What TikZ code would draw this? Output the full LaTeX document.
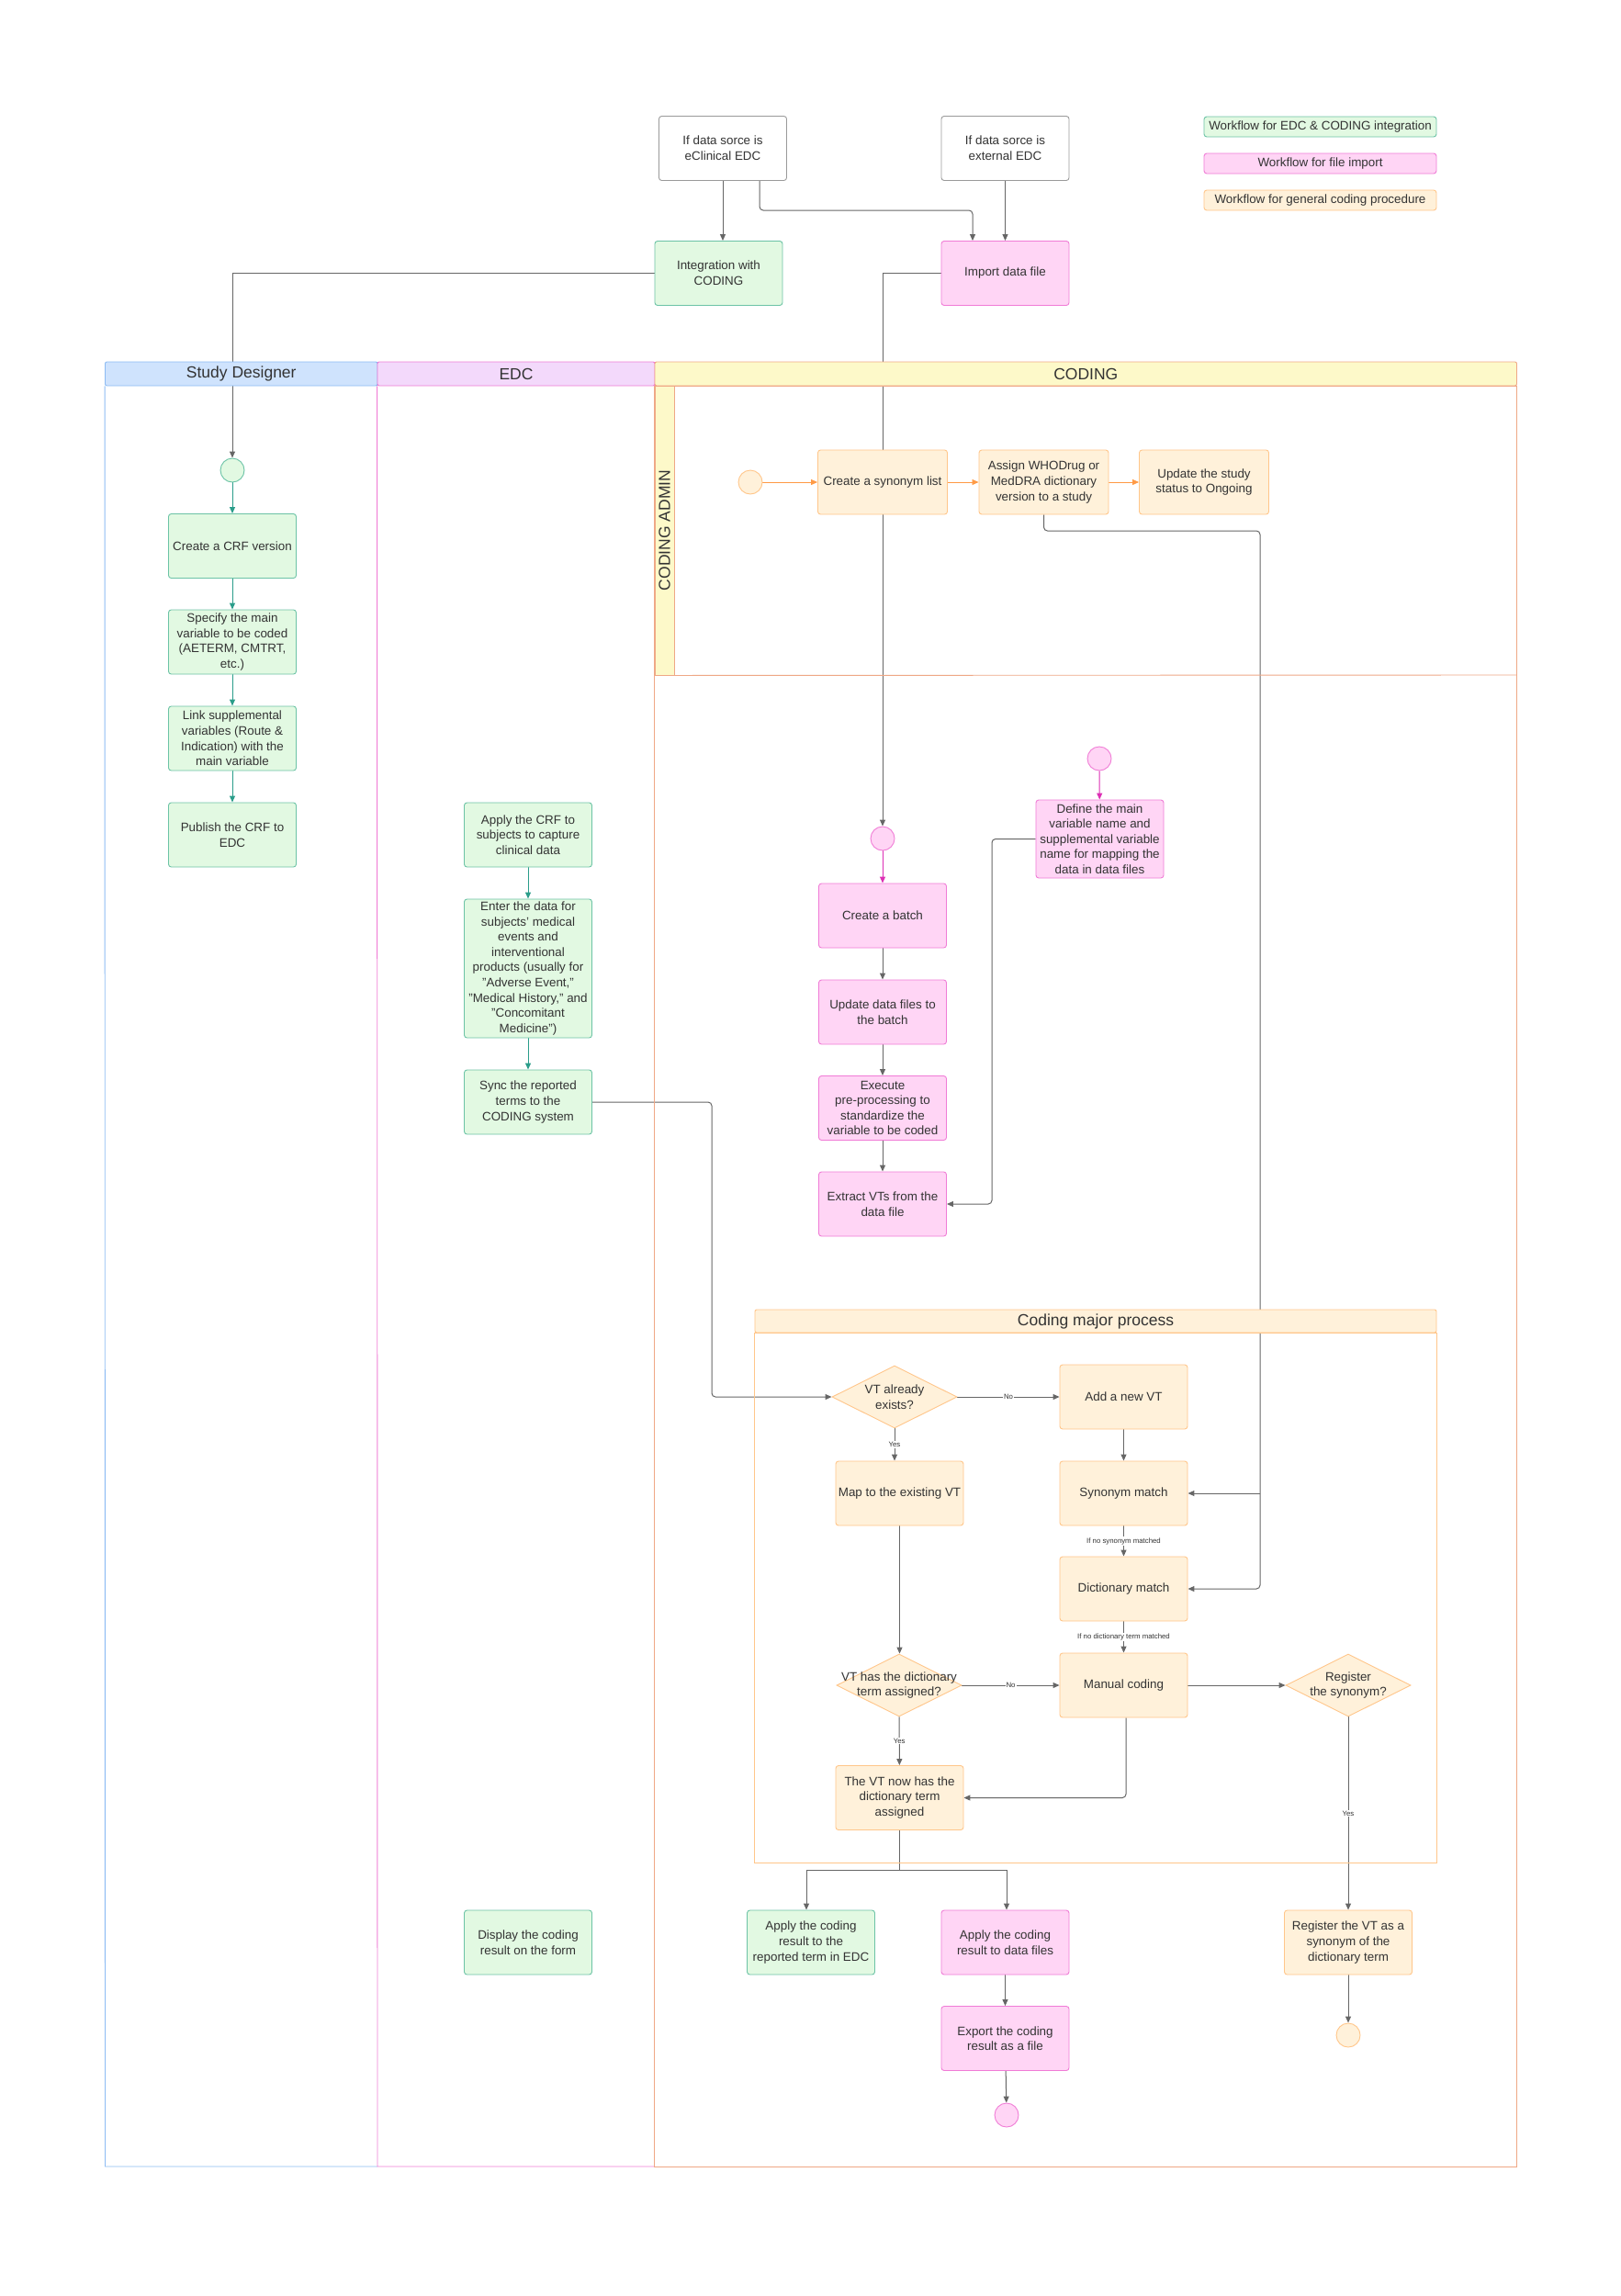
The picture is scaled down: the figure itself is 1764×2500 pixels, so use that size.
\documentclass[tikz,border=0pt]{standalone}
\usepackage{fontspec}
\setmainfont{Liberation Sans}
\usetikzlibrary{arrows.meta,shapes.geometric,backgrounds}

\definecolor{txt}{HTML}{333333}
\definecolor{greenfill}{HTML}{E2F9E2}
\definecolor{greenline}{HTML}{6CC3A6}
\definecolor{pinkfill}{HTML}{FFD5F5}
\definecolor{pinkline}{HTML}{F07CD6}
\definecolor{orangefill}{HTML}{FFF1DA}
\definecolor{orangeline}{HTML}{FFC68A}
\definecolor{greyline}{HTML}{9A9A9A}
\definecolor{connline}{HTML}{666666}
\definecolor{tealarrow}{HTML}{2A9D8A}
\definecolor{magarrow}{HTML}{DD2FB5}
\definecolor{orarrow}{HTML}{FF9A45}
\definecolor{sdfill}{HTML}{CFE3FD}
\definecolor{sdline}{HTML}{8CBBF3}
\definecolor{edcfill}{HTML}{F3D9FB}
\definecolor{edcline}{HTML}{F07ED6}
\definecolor{codfill}{HTML}{FDF9C9}
\definecolor{codline}{HTML}{EFA886}

\begin{document}
\begin{tikzpicture}[x=1pt,y=-1pt,font=\fontsize{13.4}{16.6}\selectfont,text=txt,
  box/.style={draw,rounded corners=3pt,line width=0.9pt,minimum width=139pt,minimum height=70pt,inner sep=2pt,align=center},
  grbox/.style={box,fill=greenfill,draw=greenline},
  pkbox/.style={box,fill=pinkfill,draw=pinkline},
  orbox/.style={box,fill=orangefill,draw=orangeline},
  srcbox/.style={box,fill=white,draw=greyline},
  legend/.style={minimum width=253pt,minimum height=22pt},
  dot/.style={circle,draw,line width=0.9pt,minimum size=26pt,inner sep=0pt},
  decision/.style={diamond,draw=orangeline,fill=orangefill,line width=0.9pt,minimum width=136pt,minimum height=68pt,inner sep=0pt},
  headfont/.style={font=\fontsize{17.5}{20}\selectfont},
  lanehead/.style={draw,line width=0.9pt,rounded corners=2pt,minimum height=26pt,inner sep=0pt,headfont},
  conn/.style={draw=connline,line width=1pt,-{Triangle[length=7pt,width=6pt]}},
  small/.style={font=\fontsize{7.8}{9}\selectfont,fill=white,inner sep=1pt,text=txt},
]
\useasboundingbox (0,0) rectangle (1764,2500);
\begin{scope}[on background layer]
\fill[white] (0,0) rectangle (1764,2500);
\end{scope}

\node[lanehead,fill=sdfill,draw=sdline,minimum width=296.5pt] (sdHead) at (262.75,407) {Study Designer};
\node[lanehead,fill=edcfill,draw=edcline,minimum width=302pt] (edcHead) at (562,407) {EDC};
\node[lanehead,fill=codfill,draw=codline,minimum width=938.5pt] (codHead) at (1182.25,407) {CODING};
\draw[sdline,line width=0.9pt] (sdHead.south west) -- (114.5,2359) -- (411,2359);
\draw[edcline,line width=0.9pt] (edcHead.south west) -- (411,2359) -- (713,2359);
\draw[codline,line width=0.9pt] (codHead.south west) rectangle (1651.5,2359);
\node[draw=codline,fill=codfill,line width=0.9pt,minimum width=21pt,minimum height=315pt,inner sep=0pt] (adminStrip) at (723.5,577.5) {};
\node[rotate=90,headfont] (adminLbl) at (adminStrip) {CODING ADMIN};
\draw[codline,line width=0.9pt] (adminStrip.south east) -- (1651.5,735);

\node[lanehead,fill=orangefill,draw=orangeline,minimum width=742pt,minimum height=25pt] (cmpHead) at (1193,1438.5) {Coding major process};
\draw[orangeline,line width=0.9pt] (cmpHead.south west) rectangle (1564,2028);

\node[srcbox] (srcE) at (787,161.5) {If data sorce is\\eClinical EDC};
\node[srcbox] (srcX) at (1094.5,161.5) {If data sorce is\\external EDC};
\node[grbox] (integ) at (782.5,297.5) {Integration with\\CODING};
\node[pkbox] (imp) at (1094.5,297.5) {Import data file};

\node[grbox,legend] (legA) at (1437.5,138) {Workflow for EDC \& CODING integration};
\node[pkbox,legend] (legB) at (1437.5,178) {Workflow for file import};
\node[orbox,legend] (legC) at (1437.5,218) {Workflow for general coding procedure};

\node[dot,draw=greenline,fill=greenfill] (sdStart) at (253,512) {};
\node[grbox] (crf) at (253,594.5) {Create a CRF version};
\node[grbox] (spec) at (253,699) {Specify the main\\variable to be coded\\(AETERM, CMTRT,\\etc.)};
\node[grbox] (link) at (253,804) {Link supplemental\\variables (Route \&\\Indication) with the\\main variable};
\node[grbox] (pub) at (253,909) {Publish the CRF to\\EDC};

\node[grbox] (applyCrf) at (575,909) {Apply the CRF to\\subjects to capture\\clinical data};
\node[grbox,minimum height=151pt] (enter) at (575,1054.5) {Enter the data for\\subjects' medical\\events and\\interventional\\products (usually for\\"Adverse Event,"\\"Medical History," and\\"Concomitant\\Medicine")};
\node[grbox] (sync) at (575,1200) {Sync the reported\\terms to the\\CODING system};
\node[grbox] (display) at (575,2115) {Display the coding\\result on the form};

\node[dot,draw=orangeline,fill=orangefill] (adStart) at (817,525) {};
\node[orbox,minimum width=141pt] (synList) at (961,525) {Create a synonym list};
\node[orbox,minimum width=141pt] (assign) at (1136.5,525) {Assign WHODrug or\\MedDRA dictionary\\version to a study};
\node[orbox,minimum width=141pt] (status) at (1311,525) {Update the study\\status to Ongoing};

\node[dot,draw=pinkline,fill=pinkfill] (pkStart) at (961,913) {};
\node[pkbox] (batch) at (961,997) {Create a batch};
\node[pkbox] (upd) at (961,1102) {Update data files to\\the batch};
\node[pkbox] (exec) at (961,1206.5) {Execute\\pre-processing to\\standardize the\\variable to be coded};
\node[pkbox] (extract) at (961,1311) {Extract VTs from the\\data file};
\node[dot,draw=pinkline,fill=pinkfill] (defStart) at (1197,826) {};
\node[pkbox,minimum height=85pt] (define) at (1197.5,913.5) {Define the main\\variable name and\\supplemental variable\\name for mapping the\\data in data files};

\node[decision,label={[align=center]center:{VT already\\exists?}}] (exists) at (974,1521) {};
\node[orbox] (addVT) at (1223.5,1521) {Add a new VT};
\node[orbox] (mapVT) at (979.5,1626) {Map to the existing VT};
\node[orbox] (synM) at (1223.5,1626) {Synonym match};
\node[orbox] (dictM) at (1223.5,1730) {Dictionary match};
\node[decision,label={[align=center]center:{VT has the dictionary\\term assigned?}}] (hasTerm) at (979,1835) {};
\node[orbox] (manual) at (1223.5,1835) {Manual coding};
\node[decision,label={[align=center]center:{Register\\the synonym?}}] (regQ) at (1468,1835) {};
\node[orbox] (nowHas) at (979.5,1957.5) {The VT now has the\\dictionary term\\assigned};

\node[grbox] (applyEdc) at (883,2115) {Apply the coding\\result to the\\reported term in EDC};
\node[pkbox] (applyFile) at (1094.5,2115) {Apply the coding\\result to data files};
\node[orbox] (regVT) at (1468,2115) {Register the VT as a\\synonym of the\\dictionary term};
\node[pkbox] (export) at (1094.5,2219.5) {Export the coding\\result as a file};
\node[dot,draw=pinkline,fill=pinkfill] (pkEnd) at (1096,2303) {};
\node[dot,draw=orangeline,fill=orangefill] (orEnd) at (1468,2216) {};

\coordinate (eBend) at (943,229);
\coordinate (syncBend) at (775,1200);
\coordinate (dictBus) at (1372,578);
\coordinate (defBend) at (1080,913.5);
\coordinate (split) at (979.5,2036);

\begin{scope}[on background layer]
\draw[conn] (srcE.south) -- (srcE.south |- integ.north);
\draw[conn,rounded corners=4pt] ([xshift=40pt]srcE.south) |- (eBend) -| ([xshift=-35.5pt]imp.north);
\draw[conn] (srcX) -- (imp);
\draw[conn] (integ.west) -| (sdStart.north);
\draw[conn] (imp.west) -| (pkStart.north);

\foreach \a/\b in {sdStart/crf,crf/spec,spec/link,link/pub,applyCrf/enter,enter/sync}
  \draw[conn,draw=tealarrow] (\a) -- (\b);
\draw[conn,rounded corners=4pt] (sync.east) -- (syncBend) |- (exists.west);

\foreach \a/\b in {adStart/synList,synList/assign,assign/status}
  \draw[conn,draw=orarrow,line width=0.8pt] (\a) -- (\b);
\draw[conn,rounded corners=4pt] (assign.south) |- (dictBus) |- (dictM.east);
\draw[conn] (dictBus |- synM.east) -- (synM.east);

\draw[conn,draw=magarrow] (pkStart) -- (batch);
\draw[conn,draw=magarrow] (defStart) -- (define);
\foreach \a/\b in {batch/upd,upd/exec,exec/extract}
  \draw[conn] (\a) -- (\b);
\draw[conn,rounded corners=4pt] (define.west) -- (defBend) |- (extract.east);

\draw[conn] (exists) -- node[small] (lNoA) {No} (addVT);
\draw[conn] (exists.south) -- node[small] (lYesA) {Yes} (exists.south |- mapVT.north);
\draw[conn] (addVT) -- (synM);
\draw[conn] (synM) -- node[small] (lSyn) {If no synonym matched} (dictM);
\draw[conn] (dictM) -- node[small] (lDict) {If no dictionary term matched} (manual);
\draw[conn] (mapVT.south) -- (mapVT.south |- hasTerm.north);
\draw[conn] (hasTerm) -- node[small] (lNoB) {No} (manual);
\draw[conn] (hasTerm) -- node[small] (lYesB) {Yes} (nowHas);
\draw[conn] (manual) -- (regQ);
\draw[conn,rounded corners=4pt] ([xshift=2.5pt]manual.south) |- (nowHas.east);
\draw[conn] (regQ) -- node[small] (lYesC) {Yes} (regVT);

\draw[connline,line width=1pt] (nowHas.south) -- (split);
\draw[conn] (split) -| ([xshift=-5pt]applyEdc.north);
\draw[conn] (split) -| ([xshift=1.5pt]applyFile.north);
\draw[conn] (applyFile) -- (export);
\draw[conn] (export) -- (pkEnd);
\draw[conn] (regVT) -- (orEnd);
\end{scope}
\end{tikzpicture}
\end{document}
